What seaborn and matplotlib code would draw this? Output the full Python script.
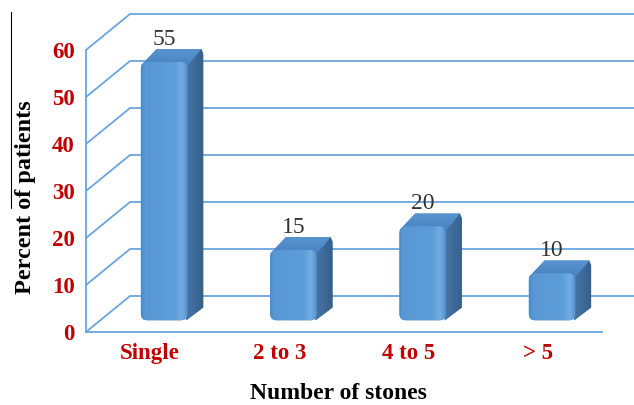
import numpy as np
import pandas as pd
import seaborn as sns
import matplotlib.pyplot as plt
from matplotlib.patches import FancyBboxPatch, Polygon
from matplotlib.colors import LinearSegmentedColormap
from matplotlib.lines import Line2D

# Data
categories = ["Single", "2 to 3", "4 to 5", "> 5"]
percents = [55, 15, 20, 10]
y_ticks = [0, 10, 20, 30, 40, 50, 60]

x_title = "Number of stones"
y_title = "Percent of patients"

df = pd.DataFrame({"stones": categories, "percent": percents})

sns.set_theme(style="white")
plt.rcParams["font.family"] = ["Liberation Serif", "DejaVu Serif"]

W, H = 634, 405
fig = plt.figure(figsize=(W / 100, H / 100), dpi=100)
ax = fig.add_axes([86 / W, (H - 332) / H, (W - 86) / W, (332 - 10) / H])

# Pixel scale of one category step and one percent
PX_X, PX_Y = 129.3, 4.7
x_lo = -(150 - 86) / PX_X
x_hi = x_lo + (W - 86) / PX_X
y_hi = (332 - 10) / PX_Y
floor_end = (602 - 150) / PX_X
DX, DY = 44 / PX_X, 36 / PX_Y      # oblique depth of the box walls
SHIFT, THICK = 0.32, 0.36          # bar position / thickness along the depth

grid_c = "#6AA5DD"
wall_lw = 1.3

# Front faces of the bars come from seaborn
sns.barplot(data=df, x="stones", y="percent", width=0.36, color="#5B9BD5",
            saturation=1, ax=ax, zorder=2)

# Back wall and side wall grid lines
for v in y_ticks:
    ax.plot([x_lo, x_lo + DX, x_hi], [v, v + DY, v + DY], color=grid_c,
            lw=wall_lw, zorder=1, solid_joinstyle="miter", clip_on=False)

front_cmap = LinearSegmentedColormap.from_list(
    "front", [(0.0, "#4C8BCA"), (0.08, "#5998D4"), (0.72, "#5D9DD8"),
              (0.87, "#72AEE3"), (0.96, "#5E99D2"), (1.0, "#4F88C2")])
side_cmap = LinearSegmentedColormap.from_list(
    "side", [(0.0, "#4676A6"), (1.0, "#365F8A")])
top_cmap = LinearSegmentedColormap.from_list(
    "top", [(0.0, "#4A83BF"), (1.0, "#5794D0")])
grad = np.linspace(0, 1, 256)[None, :]
vgrad = np.linspace(0, 1, 256)[:, None]

sx, sy = SHIFT * DX, SHIFT * DY
dx, dy = THICK * DX, THICK * DY
radius = 7 / PX_X
aspect = PX_X / PX_Y

for bar, val in zip(list(ax.patches), percents):
    x0, w, h = bar.get_x(), bar.get_width(), bar.get_height()
    bar.set_visible(False)
    fx, fy = x0 + sx, sy

    side = Polygon([(fx + w - 0.01, fy), (fx + w + dx, fy + dy),
                    (fx + w + dx, fy + h + dy - 1.0),
                    (fx + w + dx - 0.015, fy + h + dy),
                    (fx + w - 0.01, fy + h)],
                   closed=True, fc="#3F6D9B", ec="none", zorder=3)
    ax.add_patch(side)
    im = ax.imshow(grad, extent=[fx + w - 0.01, fx + w + dx, fy, fy + h + dy],
                   aspect="auto", cmap=side_cmap, zorder=3.1,
                   interpolation="bicubic")
    im.set_clip_path(side)

    top = Polygon([(fx, fy + h - 0.8), (fx + dx, fy + h + dy),
                   (fx + w + dx - 0.015, fy + h + dy),
                   (fx + w, fy + h - 0.8)],
                  closed=True, fc="#4E89C5", ec="none", zorder=3.2)
    ax.add_patch(top)
    im = ax.imshow(vgrad, extent=[fx, fx + w + dx, fy + h + dy, fy + h - 0.8],
                   aspect="auto", cmap=top_cmap, zorder=3.3,
                   interpolation="bicubic")
    im.set_clip_path(top)

    front = FancyBboxPatch((fx, fy), w, h,
                           boxstyle=f"round,pad=0,rounding_size={radius}",
                           mutation_aspect=aspect, fc="#5B9BD5", ec="none",
                           zorder=4)
    ax.add_patch(front)
    im = ax.imshow(grad, extent=[fx, fx + w, fy, fy + h], aspect="auto",
                   cmap=front_cmap, zorder=4.1, interpolation="bicubic")
    im.set_clip_path(front)

    ax.annotate(f"{val}", xy=(fx + w / 2, fy + h + dy), xytext=(0, 3),
                textcoords="offset points", ha="center", va="baseline",
                fontsize=17, color="#333333", zorder=5)

ax.set_xlim(x_lo, x_hi)
ax.set_ylim(0, y_hi)
ax.set_yticks(y_ticks)
ax.set_xticks(range(len(categories)), categories)
ax.tick_params(axis="both", length=0, labelcolor="#C00000", labelsize=16.5)
ax.tick_params(axis="y", pad=8)
ax.tick_params(axis="x", pad=8)
for lab in ax.get_xticklabels() + ax.get_yticklabels():
    lab.set_fontweight("bold")

for s in ["top", "right"]:
    ax.spines[s].set_visible(False)
for s in ["left", "bottom"]:
    ax.spines[s].set_color(grid_c)
    ax.spines[s].set_linewidth(wall_lw)
ax.spines["left"].set_bounds(0, 60)
ax.spines["bottom"].set_bounds(x_lo, floor_end)

ax.set_xlabel(x_title, fontsize=17, fontweight="bold", color="black")
ax.xaxis.set_label_coords((338 - 86) / 548, (332 - 383) / 322)
ax.set_ylabel(y_title, fontsize=17.5, fontweight="bold", color="black")
ax.yaxis.set_label_coords((36 - 86) / 548, (332 - 197) / 322)

fig.add_artist(Line2D([11 / W, 11 / W], [1 - 12 / H, 1 - 208 / H],
                      color="black", lw=0.8))

fig.savefig("out.png", dpi=100)
